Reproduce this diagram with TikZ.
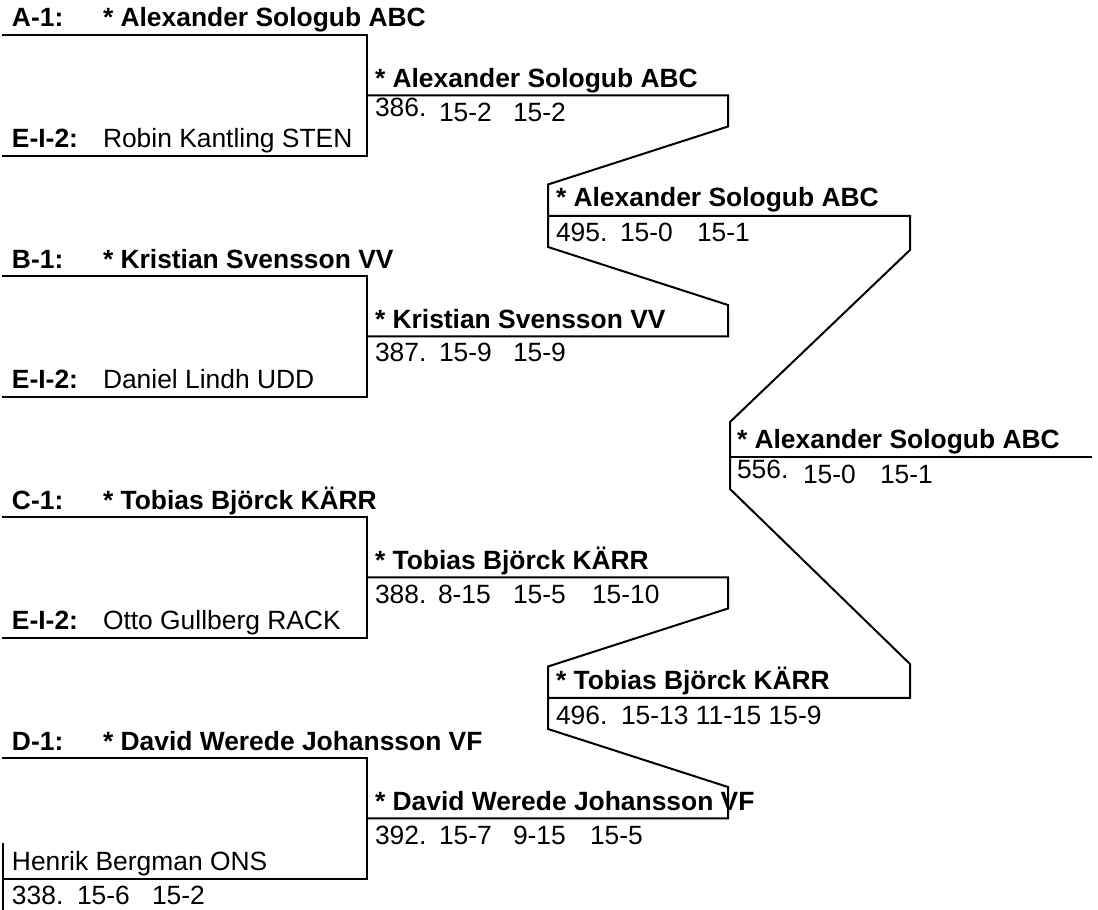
\documentclass[tikz,border=0pt]{standalone}
\usepackage{fontspec}
\setmainfont{Liberation Sans}
\begin{document}
\begin{tikzpicture}[x=1pt,y=-1pt,
  bline/.style={line width=2pt, line join=miter, line cap=rect},
  txt/.style={anchor=base west, inner sep=0pt, outer sep=0pt, font=\fontsize{26.4pt}{30pt}\selectfont},
  btxt/.style={txt, font=\fontsize{26.4pt}{30pt}\selectfont\bfseries}]
\useasboundingbox (0,0) rectangle (1098,910);

% ---------- coordinates of the bracket lines ----------
% round 1
\coordinate (a1l) at (3,35);      \coordinate (a1r) at (367,35);
\coordinate (a2l) at (3,155.5);   \coordinate (a2r) at (367,155.5);
\coordinate (b1l) at (3,276);     \coordinate (b1r) at (367,276);
\coordinate (b2l) at (3,396.5);   \coordinate (b2r) at (367,396.5);
\coordinate (c1l) at (3,517);     \coordinate (c1r) at (367,517);
\coordinate (c2l) at (3,637.5);   \coordinate (c2r) at (367,637.5);
\coordinate (d1l) at (3,758);     \coordinate (d1r) at (367,758);
\coordinate (d2l) at (3,878.5);   \coordinate (d2r) at (367,878.5);
% round 2
\coordinate (m386l) at (367,95.25);  \coordinate (m386r) at (728,95.25);
\coordinate (m387l) at (367,336.25); \coordinate (m387r) at (728,336.25);
\coordinate (m388l) at (367,577.25); \coordinate (m388r) at (728,577.25);
\coordinate (m392l) at (367,818.25); \coordinate (m392r) at (728,818.25);
% round 3
\coordinate (m495l) at (548,215.75); \coordinate (m495r) at (910,215.75);
\coordinate (m496l) at (548,697.75); \coordinate (m496r) at (910,697.75);
% round 4
\coordinate (m556l) at (730,456.75); \coordinate (m556r) at (1091,456.75);
% bend points of the connectors
\coordinate (k1) at (728,126.5);  \coordinate (k2) at (548,184.5);
\coordinate (k3) at (548,247);    \coordinate (k4) at (728,305);
\coordinate (k5) at (728,608.5);  \coordinate (k6) at (548,666.5);
\coordinate (k7) at (548,729);    \coordinate (k8) at (728,787);
\coordinate (q1) at (910,250);    \coordinate (q2) at (730,422);
\coordinate (q3) at (730,489);    \coordinate (q4) at (910,664);
\coordinate (h1) at (3,844);      \coordinate (h2) at (3,910);

% ---------- lines ----------
\draw[bline] (a1l) -- (a1r) -- (a2r) -- (a2l);
\draw[bline] (b1l) -- (b1r) -- (b2r) -- (b2l);
\draw[bline] (c1l) -- (c1r) -- (c2r) -- (c2l);
\draw[bline] (d1l) -- (d1r) -- (d2r) -- (d2l);
\draw[bline] (h1) -- (h2);
\draw[bline] (m386l) -- (m386r) -- (k1) -- (k2) -- (k3) -- (k4) -- (m387r) -- (m387l);
\draw[bline] (m388l) -- (m388r) -- (k5) -- (k6) -- (k7) -- (k8) -- (m392r) -- (m392l);
\draw[bline] (m495l) -- (m495r) -- (q1) -- (q2) -- (q3) -- (q4) -- (m496r) -- (m496l);
\draw[bline] (m556l) -- (m556r);

% ---------- round 1 texts ----------
\node[btxt] (la1) at (12,27) {A-1:};
\node[btxt] (na1) at (103,27) {* Alexander Sologub ABC};
\node[btxt] (la2) at (12,147.5) {E-I-2:};
\node[txt]  (na2) at (103,147.5) {Robin Kantling STEN};
\node[btxt] (lb1) at (12,268) {B-1:};
\node[btxt] (nb1) at (103,268) {* Kristian Svensson VV};
\node[btxt] (lb2) at (12,388.5) {E-I-2:};
\node[txt]  (nb2) at (103,388.5) {Daniel Lindh UDD};
\node[btxt] (lc1) at (12,509) {C-1:};
\node[btxt] (nc1) at (103,509) {* Tobias Bj\"orck K\"ARR};
\node[btxt] (lc2) at (12,629.5) {E-I-2:};
\node[txt]  (nc2) at (103,629.5) {Otto Gullberg RACK};
\node[btxt] (ld1) at (12,750) {D-1:};
\node[btxt] (nd1) at (103,750) {* David Werede Johansson VF};
\node[txt]  (nd2) at (12,870.5) {Henrik Bergman ONS};
\node[txt]  (s338a) at (12,904.5) {338.};
\node[txt]  (s338b) at (77,904.5) {15-6};
\node[txt]  (s338c) at (152,904.5) {15-2};

% ---------- round 2 texts ----------
\node[btxt] (w386) at (375,87.25) {* Alexander Sologub ABC};
\node[txt]  (s386a) at (375,116.25) {386.};
\node[txt]  (s386b) at (439,121.25) {15-2};
\node[txt]  (s386c) at (513,121.25) {15-2};

\node[btxt] (w387) at (375,328.25) {* Kristian Svensson VV};
\node[txt]  (s387a) at (375,361.25) {387.};
\node[txt]  (s387b) at (439,361.25) {15-9};
\node[txt]  (s387c) at (513,361.25) {15-9};

\node[btxt] (w388) at (375,569.25) {* Tobias Bj\"orck K\"ARR};
\node[txt]  (s388a) at (375,603.25) {388.};
\node[txt]  (s388b) at (438,603.25) {8-15};
\node[txt]  (s388c) at (513,603.25) {15-5};
\node[txt]  (s388d) at (592,603.25) {15-10};

\node[btxt] (w392) at (375,810.25) {* David Werede Johansson VF};
\node[txt]  (s392a) at (375,844.25) {392.};
\node[txt]  (s392b) at (439,844.25) {15-7};
\node[txt]  (s392c) at (513,844.25) {9-15};
\node[txt]  (s392d) at (590,844.25) {15-5};

% ---------- round 3 texts ----------
\node[btxt] (w495) at (556,206.75) {* Alexander Sologub ABC};
\node[txt]  (s495a) at (556,241.75) {495.};
\node[txt]  (s495b) at (620,241.75) {15-0};
\node[txt]  (s495c) at (697,241.75) {15-1};

\node[btxt] (w496) at (556,689.75) {* Tobias Bj\"orck K\"ARR};
\node[txt]  (s496a) at (556,724.75) {496.};
\node[txt]  (s496b) at (621,724.75) {15-13 11-15 15-9};

% ---------- round 4 texts ----------
\node[btxt] (w556) at (737,448.75) {* Alexander Sologub ABC};
\node[txt]  (s556a) at (737,478.75) {556.};
\node[txt]  (s556b) at (803,483.75) {15-0};
\node[txt]  (s556c) at (880,483.75) {15-1};
\end{tikzpicture}
\end{document}
